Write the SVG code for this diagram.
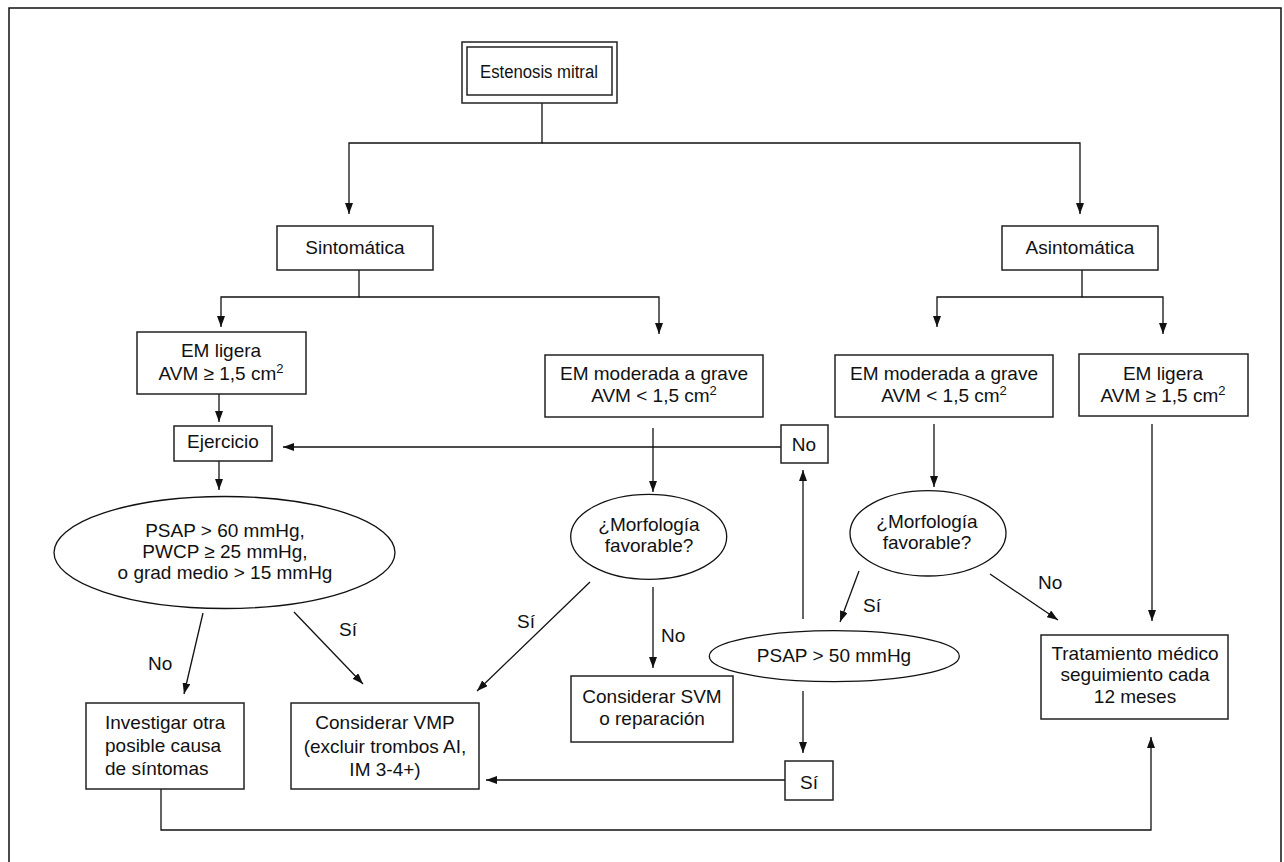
<svg xmlns="http://www.w3.org/2000/svg" width="1284" height="862" viewBox="0 0 1284 862">
<style>
.bx{fill:#fff;stroke:#222;stroke-width:1.5}
.el{fill:#fff;stroke:#111;stroke-width:1.3}
.t{font-family:"Liberation Sans",Arial,sans-serif;font-size:19px;fill:#111;text-anchor:middle}
.l{text-anchor:start}
.c{fill:none;stroke:#111;stroke-width:1.3}
.sup{font-size:13px}
</style>
<defs>
<marker id="ah" viewBox="0 0 11 8" refX="11" refY="4" markerWidth="11" markerHeight="8" markerUnits="userSpaceOnUse" orient="auto">
<path d="M0,0 L11,4 L0,8 z" fill="#111"/>
</marker>
</defs>
<rect x="0" y="0" width="1284" height="862" fill="#fff"/>
<rect x="9" y="8" width="1272" height="862" fill="none" stroke="#111" stroke-width="1.5"/>

<g id="connectors">
<path class="c" d="M542 103 V143 H349 V214" marker-end="url(#ah)"/>
<path class="c" d="M542 143 H1080 V214" marker-end="url(#ah)"/>
<path class="c" d="M359 270 V297 H221 V327" marker-end="url(#ah)"/>
<path class="c" d="M359 297 H659 V334" marker-end="url(#ah)"/>
<path class="c" d="M1082 270 V297 H937 V327" marker-end="url(#ah)"/>
<path class="c" d="M1082 297 H1163 V334" marker-end="url(#ah)"/>
<path class="c" d="M219 394 V422" marker-end="url(#ah)"/>
<path class="c" d="M781 447 H283" marker-end="url(#ah)"/>
<path class="c" d="M653 428 V492" marker-end="url(#ah)"/>
<path class="c" d="M219 461 V490" marker-end="url(#ah)"/>
<path class="c" d="M203 613 L184 694" marker-end="url(#ah)"/>
<path class="c" d="M294 612 L363 684" marker-end="url(#ah)"/>
<path class="c" d="M590 582 L477 691" marker-end="url(#ah)"/>
<path class="c" d="M653 587 V668" marker-end="url(#ah)"/>
<path class="c" d="M803 619 V470" marker-end="url(#ah)"/>
<path class="c" d="M803 691 V753" marker-end="url(#ah)"/>
<path class="c" d="M785 780 H486" marker-end="url(#ah)"/>
<path class="c" d="M934 424 V487" marker-end="url(#ah)"/>
<path class="c" d="M859 571 L840 622" marker-end="url(#ah)"/>
<path class="c" d="M990 574 L1058 620" marker-end="url(#ah)"/>
<path class="c" d="M1152 424 V621" marker-end="url(#ah)"/>
<path class="c" d="M161 789 V830 H1151 V737" marker-end="url(#ah)"/>
<text class="t l" x="148" y="670">No</text>
<text class="t l" x="339" y="636">Sí</text>
<text class="t l" x="517" y="628">Sí</text>
<text class="t l" x="661" y="642">No</text>
<text class="t l" x="863" y="612">Sí</text>
<text class="t l" x="1038" y="589">No</text>
</g>

<g id="n-estenosis">
<rect class="bx" x="462" y="42" width="155" height="61"/>
<rect class="bx" x="467" y="47" width="145" height="48"/>
<text class="t" transform="translate(539,78) scale(0.88,1)">Estenosis mitral</text>
</g>
<g id="n-sintomatica">
<rect class="bx" x="277" y="226" width="156" height="44"/>
<text class="t" x="355" y="254">Sintomática</text>
</g>
<g id="n-asintomatica">
<rect class="bx" x="1002" y="226" width="156" height="44"/>
<text class="t" x="1080" y="254">Asintomática</text>
</g>
<g id="n-emligera-l">
<rect class="bx" x="137" y="332" width="169" height="62"/>
<text class="t" x="221" y="357">EM ligera</text>
<text class="t" x="221" y="380">AVM ≥ 1,5 cm<tspan class="sup" dy="-7">2</tspan></text>
</g>
<g id="n-emmod-c">
<rect class="bx" x="545" y="355" width="218" height="62"/>
<text class="t" x="654" y="380">EM moderada a grave</text>
<text class="t" x="654" y="402">AVM &lt; 1,5 cm<tspan class="sup" dy="-7">2</tspan></text>
</g>
<g id="n-emmod-r">
<rect class="bx" x="835" y="355" width="218" height="62"/>
<text class="t" x="944" y="380">EM moderada a grave</text>
<text class="t" x="944" y="402">AVM &lt; 1,5 cm<tspan class="sup" dy="-7">2</tspan></text>
</g>
<g id="n-emligera-r">
<rect class="bx" x="1079" y="354" width="169" height="62"/>
<text class="t" x="1163" y="380">EM ligera</text>
<text class="t" x="1163" y="402">AVM ≥ 1,5 cm<tspan class="sup" dy="-7">2</tspan></text>
</g>
<g id="n-ejercicio">
<rect class="bx" x="174" y="426" width="98" height="35"/>
<text class="t" x="223" y="448">Ejercicio</text>
</g>
<g id="n-no">
<rect class="bx" x="781" y="425" width="47" height="38"/>
<text class="t" x="804" y="451">No</text>
</g>
<g id="n-psap60">
<ellipse class="el" cx="224.5" cy="552.5" rx="170.5" ry="56"/>
<text class="t" x="225" y="537">PSAP &gt; 60 mmHg,</text>
<text class="t" x="225" y="558">PWCP ≥ 25 mmHg,</text>
<text class="t" x="225" y="579">o grad medio &gt; 15 mmHg</text>
</g>
<g id="n-morf-c">
<ellipse class="el" cx="648.7" cy="536.8" rx="78" ry="42.5"/>
<text class="t" x="649" y="531">¿Morfología</text>
<text class="t" x="649" y="552">favorable?</text>
</g>
<g id="n-morf-r">
<ellipse class="el" cx="928" cy="533.3" rx="78" ry="42.7"/>
<text class="t" x="927" y="528">¿Morfología</text>
<text class="t" x="927" y="549">favorable?</text>
</g>
<g id="n-psap50">
<ellipse class="el" cx="834.3" cy="656.2" rx="125" ry="25.5"/>
<text class="t" x="834" y="662">PSAP &gt; 50 mmHg</text>
</g>
<g id="n-svm">
<rect class="bx" x="571" y="676" width="162" height="66"/>
<text class="t" x="652" y="703">Considerar SVM</text>
<text class="t" x="652" y="725">o reparación</text>
</g>
<g id="n-si">
<rect class="bx" x="785" y="761" width="48" height="39"/>
<text class="t" x="809" y="789">Sí</text>
</g>
<g id="n-investigar">
<rect class="bx" x="86" y="703" width="158" height="86"/>
<text class="t l" x="105" y="729">Investigar otra</text>
<text class="t l" x="105" y="752">posible causa</text>
<text class="t l" x="105" y="775">de síntomas</text>
</g>
<g id="n-vmp">
<rect class="bx" x="291" y="703" width="188" height="86"/>
<text class="t" x="385" y="729">Considerar VMP</text>
<text class="t" x="385" y="753">(excluir trombos AI,</text>
<text class="t" x="385" y="776">IM 3-4+)</text>
</g>
<g id="n-tratamiento">
<rect class="bx" x="1041" y="635" width="187" height="84"/>
<text class="t" x="1135" y="660">Tratamiento médico</text>
<text class="t" x="1135" y="681">seguimiento cada</text>
<text class="t" x="1135" y="703">12 meses</text>
</g>
</svg>
